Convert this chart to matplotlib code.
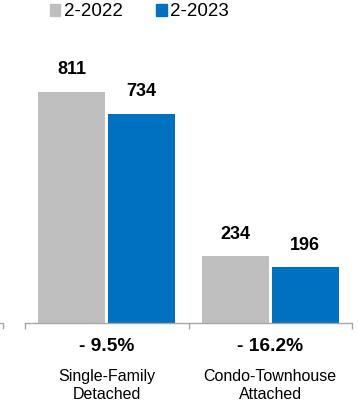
import matplotlib
matplotlib.use("Agg")
import matplotlib.pyplot as plt
from matplotlib.patches import Patch
from matplotlib.lines import Line2D
import numpy as np

categories = ["Single-Family\nDetached", "Condo-Townhouse\nAttached"]
series_names = ["2-2022", "2-2023"]
values_2022 = [811, 234]
values_2023 = [734, 196]
changes = ["- 9.5%", "- 16.2%"]

GRAY = "#BFBFBF"
BLUE = "#0070C0"
AXIS = "#A6A6A6"

plt.rcParams['font.family'] = ['Liberation Sans', 'DejaVu Sans']

W, H = 358, 404
fig = plt.figure(figsize=(W / 100, H / 100), dpi=100)
ax = fig.add_axes([25 / W, (H - 323) / H, 327 / W, 285 / H])

x = np.arange(len(categories))
bw = 0.41
gap = 0.018
b1 = ax.bar(x - bw / 2 - gap / 2, values_2022, bw, color=GRAY)
b2 = ax.bar(x + bw / 2 + gap / 2, values_2023, bw, color=BLUE)

ax.set_xlim(-0.5, 1.5)
ax.set_ylim(0, 1000)

# value labels above bars
for bars in (b1, b2):
    for rect in bars:
        ax.annotate(f"{int(rect.get_height())}",
                    (rect.get_x() + rect.get_width() / 2, rect.get_height()),
                    xytext=(0, 15.8), textcoords="offset points",
                    ha="center", va="center", fontsize=13, fontweight="bold")

# percentage change and category labels under the axis
for i in range(len(categories)):
    ax.annotate(changes[i], (x[i], 0), xycoords=("data", "axes fraction"),
                xytext=(0, -17), textcoords="offset points",
                ha="center", va="center", fontsize=13.8, fontweight="bold")
    ax.annotate(categories[i], (x[i], 0), xycoords=("data", "axes fraction"),
                xytext=(0, -45.2), textcoords="offset points",
                ha="center", va="center", fontsize=11.5, linespacing=1.25)

for s in ["top", "right", "left"]:
    ax.spines[s].set_visible(False)
ax.spines["bottom"].set_color(AXIS)
ax.spines["bottom"].set_linewidth(1)
ax.set_yticks([])
ax.set_xticks([-0.5, 0.5, 1.5])
ax.set_xticklabels([])
ax.tick_params(axis="x", direction="out", length=4, width=1, color=AXIS)

# bit of neighbouring axis at the left edge
fig.add_artist(Line2D([0, 3 / W, 3 / W], [(H - 323) / H, (H - 323) / H, (H - 328) / H],
                      color=AXIS, lw=1, transform=fig.transFigure))

handles = [Patch(color=GRAY), Patch(color=BLUE)]
fig.legend(handles, series_names, loc="center left",
           bbox_to_anchor=(50 / W, 1 - 12 / H), ncol=2, frameon=False,
           fontsize=13.5, handlelength=0.55, handleheight=0.55,
           handletextpad=0.18, columnspacing=1.8, borderpad=0, borderaxespad=0)

fig.savefig("out.png", dpi=100)
